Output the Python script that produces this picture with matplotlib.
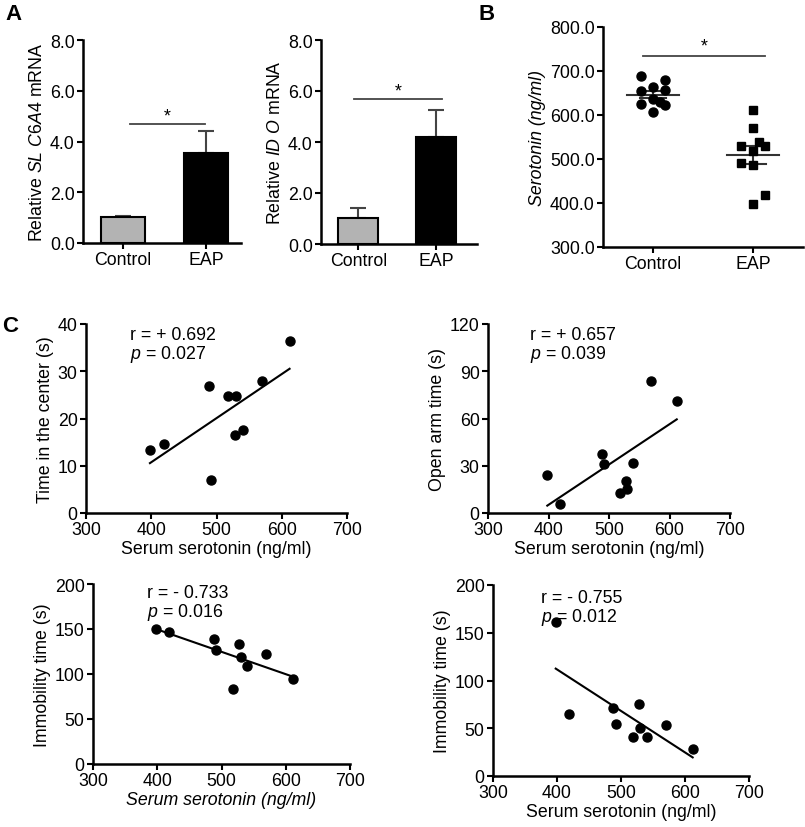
import numpy as np
import matplotlib
matplotlib.use("Agg")
import matplotlib.pyplot as plt

plt.rcParams['font.family'] = ['Liberation Sans', 'DejaVu Sans']
plt.rcParams['mathtext.fontset'] = 'custom'
plt.rcParams['mathtext.rm'] = 'Liberation Sans'
plt.rcParams['mathtext.it'] = 'Liberation Sans:italic'
FS = 12.8
plt.rcParams['font.size'] = FS

# ---- data ----
groups = ["Control", "EAP"]
slc6a4_mean = [1.01, 3.55]
slc6a4_err = [0.05, 0.88]
ido_mean = [1.02, 4.18]
ido_err = [0.40, 1.07]

serotonin_control = [688, 680, 655, 663, 657.5, 625, 636, 629, 623, 607.5]
jitter_control = [-0.12, 0.12, -0.12, 0.0, 0.12, -0.12, 0.0, 0.07, 0.12, 0.0]
serotonin_eap = [612, 570, 529, 539, 529, 517.5, 491, 487, 419, 398]
jitter_eap = [0.0, 0.0, -0.12, 0.06, 0.12, 0.0, -0.12, 0.0, 0.12, 0.0]

serum = [398, 419, 488, 492, 518, 528, 530, 540, 570, 612]
center_time = [13.4, 14.5, 26.8, 7.0, 24.7, 16.5, 24.7, 17.6, 27.9, 36.5]
open_arm = [23.9, 5.9, 37.2, 30.8, 12.9, 20.1, 15.0, 31.9, 83.5, 71.0]
immob1 = [150, 147, 139, 127, 83, 133, 119, 108.5, 122, 94.4]
immob2 = [161, 64.6, 71.6, 54.8, 40.8, 75, 50.6, 40.8, 53, 27.9]

stats = [("r = + 0.692", "0.027"), ("r = + 0.657", "0.039"),
         ("r = - 0.733", "0.016"), ("r = - 0.755", "0.012")]

W, H = 805, 828
fig = plt.figure(figsize=(W / 100, H / 100), dpi=100)

def ax_px(l, t, r, b):
    return fig.add_axes([l / W, 1 - b / H, (r - l) / W, (b - t) / H])

def style(ax):
    for s in ['top', 'right']:
        ax.spines[s].set_visible(False)
    for s in ['left', 'bottom']:
        ax.spines[s].set_linewidth(1.8)
    ax.tick_params(width=1.5, length=4, labelsize=FS, pad=2)

LW = 1.5

# ---- Panel A ----
def bar_panel(ax, means, errs, xlim, ylabel, sig_x, sig_y, star_y):
    x = np.arange(len(groups))
    ax.bar(x, means, width=0.52, color=['#b3b3b3', 'black'], edgecolor='black', linewidth=1.5, zorder=2)
    ax.errorbar(x, means, yerr=[np.zeros(len(errs)), errs], fmt='none', ecolor='#444444',
                elinewidth=1.5, capsize=6, capthick=1.5, zorder=1)
    ax.set_xlim(*xlim)
    ax.set_ylim(0, 8)
    ax.set_yticks([0, 2, 4, 6, 8])
    ax.set_yticklabels(["0.0", "2.0", "4.0", "6.0", "8.0"])
    ax.set_xticks(x)
    ax.set_xticklabels(groups)
    ax.set_ylabel(ylabel, fontsize=FS, labelpad=3)
    ax.plot(sig_x, [sig_y, sig_y], color='#444444', lw=1.3)
    ax.text(np.mean(sig_x), star_y, "*", ha='center', va='center', fontsize=FS)
    style(ax)

axA1 = ax_px(83, 41, 241, 244)
bar_panel(axA1, slc6a4_mean, slc6a4_err, (-0.48, 1.42), r"Relative $\it{SL\ C6A4}$ mRNA",
          [0.08, 0.99], 4.69, 5.0)
axA2 = ax_px(321, 41, 477, 245)
bar_panel(axA2, ido_mean, ido_err, (-0.48, 1.53), r"Relative $\it{ID\ O}$ mRNA",
          [-0.06, 1.08], 5.69, 6.0)

# ---- Panel B ----
axB = ax_px(603, 28, 803, 248)
for i, (vals, jit, mk) in enumerate([(serotonin_control, jitter_control, 'o'),
                                     (serotonin_eap, jitter_eap, 's')]):
    vals = np.array(vals)
    axB.plot(i + np.array(jit), vals, mk, color='black', ms=6.5 if mk == 'o' else 6, ls='none', zorder=3)
    m = vals.mean()
    sem = vals.std(ddof=1) / np.sqrt(len(vals))
    axB.plot([i - 0.26, i + 0.26], [m, m], color='#333333', lw=LW, zorder=2)
    axB.plot([i, i], [m - sem, m + sem], color='#333333', lw=LW, zorder=2)
    axB.plot([i - 0.13, i + 0.13], [m - sem, m - sem], color='#333333', lw=LW, zorder=2)
    axB.plot([i - 0.13, i + 0.13], [m + sem, m + sem], color='#333333', lw=LW, zorder=2)
axB.set_xlim(-0.5, 1.5)
axB.set_ylim(300, 800)
axB.set_yticks([300, 400, 500, 600, 700, 800])
axB.set_yticklabels(["300.0", "400.0", "500.0", "600.0", "700.0", "800.0"])
axB.set_xticks([0, 1])
axB.set_xticklabels(groups)
axB.set_ylabel("Serotonin (ng/ml)", fontstyle='italic', fontsize=FS, labelpad=3)
axB.plot([-0.1, 1.12], [734, 734], color='#444444', lw=1.3)
axB.text(0.51, 757, "*", ha='center', va='center', fontsize=FS)
style(axB)

# ---- Panel C ----
def scatter_panel(ax, y, ymax, ystep, ylabel, xlabel_italic=False):
    xs = np.array(serum)
    ys = np.array(y)
    ax.plot(xs, ys, 'o', color='black', ms=6.5, ls='none', zorder=3)
    k, b = np.polyfit(xs, ys, 1)
    xx = np.array([xs.min(), xs.max()])
    ax.plot(xx, k * xx + b, color='black', lw=LW, zorder=2)
    ax.set_xlim(300, 700)
    ax.set_ylim(0, ymax)
    ax.set_xticks([300, 400, 500, 600, 700])
    ax.set_yticks(np.arange(0, ymax + 1, ystep))
    ax.set_ylabel(ylabel, fontsize=FS, labelpad=3)
    ax.set_xlabel("Serum serotonin (ng/ml)", fontsize=FS, labelpad=1,
                  fontstyle='italic' if xlabel_italic else 'normal')
    style(ax)
    return ax

axC1 = ax_px(86, 325, 347, 514)
scatter_panel(axC1, center_time, 40, 10, "Time in the center (s)")
axC2 = ax_px(488, 325, 730, 514)
scatter_panel(axC2, open_arm, 120, 30, "Open arm time (s)")
axC3 = ax_px(93, 585, 350, 765)
scatter_panel(axC3, immob1, 200, 50, "Immobility time (s)", xlabel_italic=True)
axC4 = ax_px(493, 586, 749, 777)
scatter_panel(axC4, immob2, 200, 50, "Immobility time (s)")

# annotation text (positions in pixels)
for (px, py), (rtxt, ptxt) in zip([(130, 327), (530, 327), (147, 585), (541, 590)], stats):
    fig.text(px / W, 1 - py / H, rtxt + "\n" + r"$\it{p}$ = " + ptxt, ha='left', va='top',
             fontsize=FS, linespacing=1.0)

# panel letters
fig.text(5 / W, 1 - 4 / H, "A", fontsize=16, fontweight='bold', ha='left', va='top')
fig.text(478 / W, 1 - 4 / H, "B", fontsize=16, fontweight='bold', ha='left', va='top')
fig.text(2 / W, 1 - 316 / H, "C", fontsize=16, fontweight='bold', ha='left', va='top')

fig.savefig("out.png", dpi=100)
